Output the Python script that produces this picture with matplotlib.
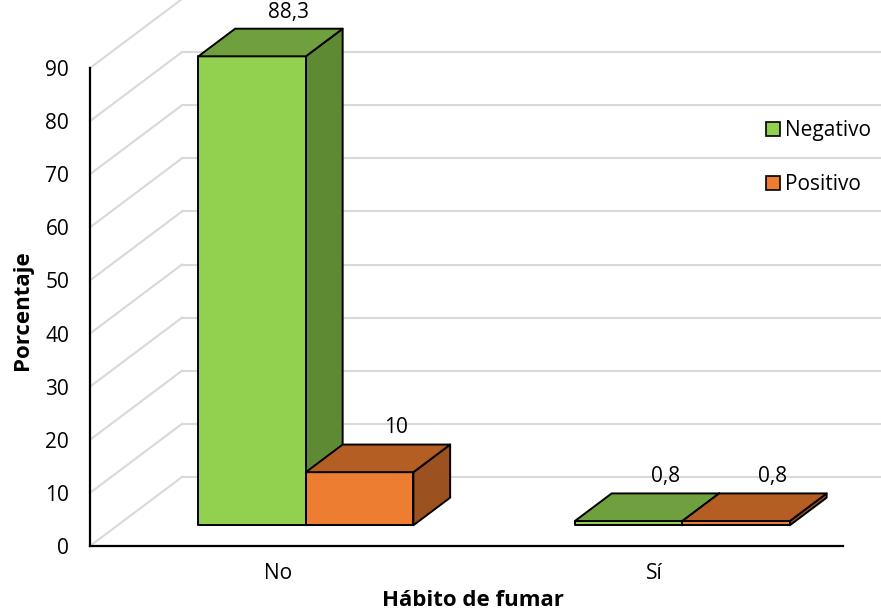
import numpy as np
import matplotlib
matplotlib.use("Agg")
import matplotlib.pyplot as plt
from matplotlib.patches import Polygon, Patch

plt.rcParams['font.family'] = ['Open Sans', 'DejaVu Sans']

# data
categorias = ["No", "Sí"]
negativo = [88.3, 0.8]
positivo = [10, 0.8]
series_names = ["Negativo", "Positivo"]
yticks = np.arange(0, 100, 10)

# face colours: front, top, side
colores = {
    "Negativo": ("#92D050", "#70A03E", "#5E8A34"),
    "Positivo": ("#ED7D31", "#B55E24", "#9C5220"),
}

fig = plt.figure(figsize=(8.81, 6.14), dpi=100)
ax = fig.add_axes([90/881, 68/614, 753/881, 478/614])
ax.set_xlim(0, 2)
ax.set_ylim(0, 90)

# oblique depth vector (data units) for the whole depth of the plot
depth = np.array([0.2444, 13.0])
t_front, t_back = 0.30, 0.70
bar_w = 0.2855
grid_col = "#D9D9D9"
fs = 15

# walls: diagonal lines on the left wall, horizontal lines on the back wall
for v in yticks:
    ax.plot([0, depth[0]], [v, v + depth[1]], color=grid_col, lw=1.5,
            clip_on=False, zorder=1)
    ax.plot([depth[0], 2.4], [v + depth[1], v + depth[1]], color=grid_col,
            lw=1.5, clip_on=False, zorder=1)


def draw_box(x0, h, cols, z):
    x1 = x0 + bar_w
    f = depth * t_front
    b = depth * t_back
    front = [(x0 + f[0], f[1]), (x1 + f[0], f[1]),
             (x1 + f[0], h + f[1]), (x0 + f[0], h + f[1])]
    top = [(x0 + f[0], h + f[1]), (x1 + f[0], h + f[1]),
           (x1 + b[0], h + b[1]), (x0 + b[0], h + b[1])]
    side = [(x1 + f[0], f[1]), (x1 + b[0], b[1]),
            (x1 + b[0], h + b[1]), (x1 + f[0], h + f[1])]
    for pts, c in zip([side, front, top], [cols[2], cols[0], cols[1]]):
        ax.add_patch(Polygon(pts, closed=True, facecolor=c, edgecolor="black",
                             lw=1.4, joinstyle="round", clip_on=False, zorder=z))
    # value label above the back edge of the top face
    return x0 + bar_w / 2 + b[0], h + b[1]


z = 3
for i, cat in enumerate(categorias):
    c = i + 0.5
    for j, (name, vals) in enumerate(zip(series_names, [negativo, positivo])):
        x0 = c - bar_w + j * bar_w
        lx, ly = draw_box(x0, vals[i], colores[name], z)
        z += 1
        ax.annotate(f"{vals[i]:g}".replace(".", ","), (lx, ly),
                    xytext=(0, 12), textcoords="offset points",
                    ha="center", va="center", fontsize=fs,
                    annotation_clip=False, zorder=20)

# axes lines
for s in ["top", "right"]:
    ax.spines[s].set_visible(False)
for s in ["left", "bottom"]:
    ax.spines[s].set_linewidth(1.6)
    ax.spines[s].set_color("black")
    ax.spines[s].set_zorder(10)

ax.set_yticks(yticks)
ax.set_yticklabels([str(v) for v in yticks], fontsize=fs)
ax.set_xticks([0.5, 1.5])
ax.set_xticklabels(categorias, fontsize=fs)
ax.tick_params(axis="y", length=0, pad=15)
ax.tick_params(axis="x", length=0, pad=12)

ax.set_ylabel("Porcentaje", fontsize=16, fontweight="bold", va="center")
ax.yaxis.set_label_coords(-0.0903, 0.494)
ax.set_xlabel("Hábito de fumar", fontsize=16, fontweight="bold", va="center")
ax.xaxis.set_label_coords(0.509, -0.113)

handles = [Patch(facecolor=colores[n][0], edgecolor="black", lw=1.2)
           for n in series_names]
ax.legend(handles, series_names, loc="upper left",
          bbox_to_anchor=((766 - 90) / 753, (546 - 120) / 478),
          frameon=False, fontsize=fs, borderpad=0, borderaxespad=0,
          handlelength=0.65, handleheight=0.65, handletextpad=0.25,
          labelspacing=1.6)

fig.savefig("out.png", dpi=100)
